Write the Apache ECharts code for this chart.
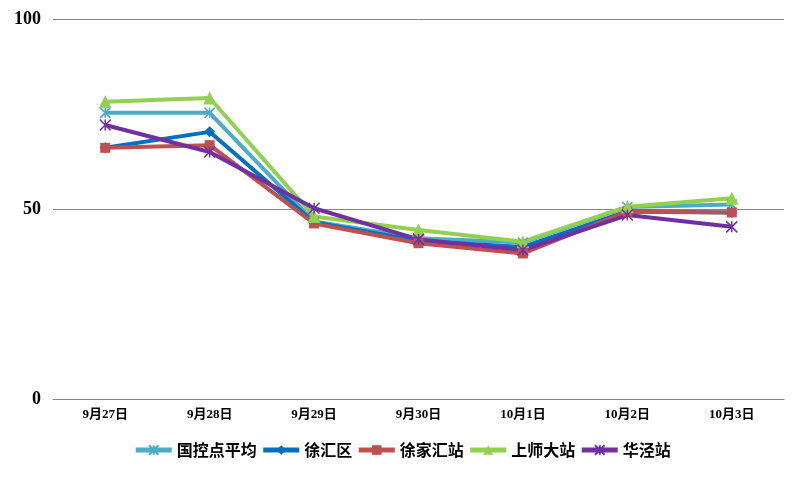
<!DOCTYPE html>
<html><head><meta charset="utf-8">
<script src="https://cdn.jsdelivr.net/npm/echarts@6/dist/echarts.min.js"></script>
<style>html,body{margin:0;padding:0;background:#fff}#c{width:804px;height:478px}</style>
</head><body><div id="c"></div>
<script>
var categories = ['9月27日','9月28日','9月29日','9月30日','10月1日','10月2日','10月3日'];
var guokong = [75.3, 75.3, 46.7, 42.3, 41.2, 50.5, 51.2];
var xuhuiqu = [66.1, 70.3, 46.5, 41.6, 40.0, 49.4, 49.1];
var xujiahui = [66.1, 66.8, 46.2, 41.0, 38.3, 49.3, 49.1];
var shangshi = [78.2, 79.2, 48.0, 44.5, 41.4, 50.6, 52.8];
var huajing = [72.1, 65.0, 50.2, 42.0, 39.2, 48.4, 45.3];
var yTicks = [0, 50, 100];

var star = 'path://M0,0L10,10M10,0L0,10M5,0L5,10';
function mk(name, data, color, symbol, size, stroke) {
  return {
    name: name, type: 'line', data: data, symbol: symbol, symbolSize: size,
    lineStyle: {color: color, width: 4},
    itemStyle: stroke ? {color: 'rgba(0,0,0,0)', borderColor: color, borderWidth: 1.5} : {color: color},
    color: color
  };
}
var chart = echarts.init(document.getElementById('c'));
chart.setOption({
  animation: false,
  grid: {left: 53, right: 20, top: 19, bottom: 79},
  xAxis: {
    type: 'category', data: categories, boundaryGap: true,
    axisLine: {show: true, lineStyle: {color: '#868686', width: 1}},
    axisTick: {show: false},
    axisLabel: {color: '#000', fontFamily: 'Liberation Serif, Noto Sans CJK SC', fontWeight: 'bold', fontSize: 13, margin: 9}
  },
  yAxis: {
    type: 'value', min: 0, max: 100, interval: 50,
    axisLine: {show: false}, axisTick: {show: false},
    splitLine: {lineStyle: {color: '#868686', width: 1}},
    axisLabel: {color: '#000', fontFamily: 'Liberation Serif', fontWeight: 'bold', fontSize: 18, margin: 12}
  },
  legend: {
    top: 437, left: 'center', itemWidth: 36, itemHeight: 12, itemGap: 4,
    lineStyle: {width: 5},
    textStyle: {fontFamily: 'Noto Sans CJK SC', fontWeight: 'bold', fontSize: 16, color: '#000'},
    data: ['国控点平均','徐汇区','徐家汇站','上师大站','华泾站']
  },
  series: [
    mk('国控点平均', guokong, '#4BACC6', star, 10, true),
    mk('徐汇区', xuhuiqu, '#0070C0', 'diamond', 11, false),
    mk('徐家汇站', xujiahui, '#C0504D', 'rect', 10, false),
    mk('上师大站', shangshi, '#92D050', 'triangle', 13, false),
    mk('华泾站', huajing, '#7030A0', star, 11, true)
  ]
});
</script></body></html>
